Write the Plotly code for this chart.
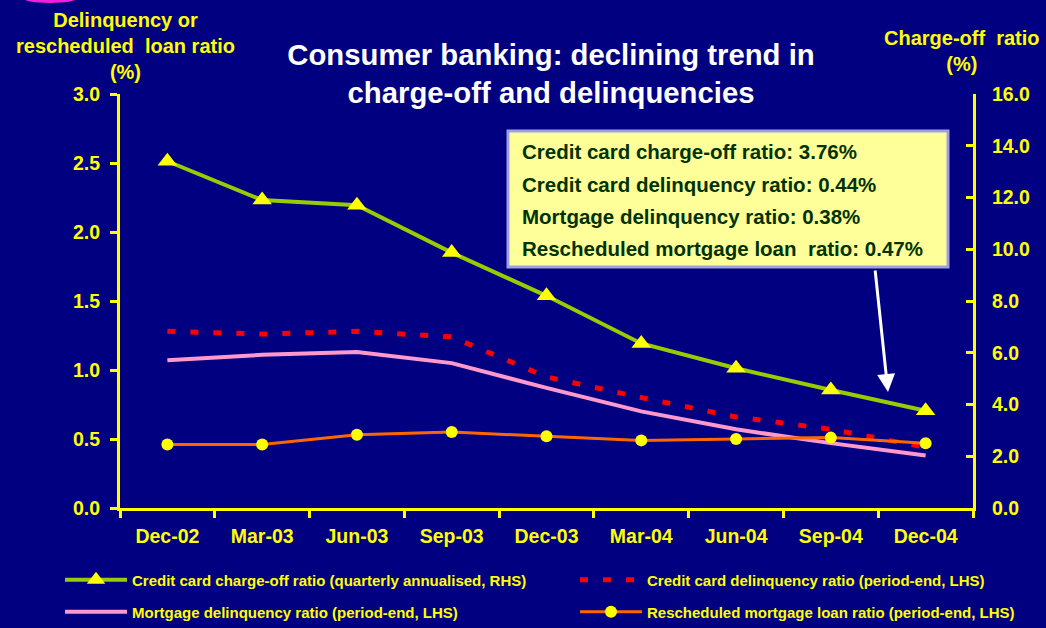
import plotly.graph_objects as go

quarters = ["Dec-02", "Mar-03", "Jun-03", "Sep-03", "Dec-03", "Mar-04", "Jun-04", "Sep-04", "Dec-04"]
chargeoff = [13.4, 11.9, 11.7, 9.87, 8.2, 6.36, 5.4, 4.56, 3.76]
cc_delinq = [1.28, 1.26, 1.28, 1.24, 0.95, 0.80, 0.66, 0.57, 0.44]
mort_delinq = [1.07, 1.11, 1.13, 1.05, 0.87, 0.70, 0.57, 0.47, 0.38]
resched = [0.46, 0.46, 0.53, 0.55, 0.52, 0.49, 0.50, 0.51, 0.47]

box_lines = [
    "Credit card charge-off ratio: 3.76%",
    "Credit card delinquency ratio: 0.44%",
    "Mortgage delinquency ratio: 0.38%",
    "Rescheduled mortgage loan  ratio: 0.47%",
]

W, H = 1046, 628
L, R, T, B = 120, 73, 94, 120
PW, PH = W - L - R, H - T - B

def px(x):
    return (x - L) / PW

def py(y):
    return (H - B - y) / PH

FONT = "Arial, Liberation Sans, sans-serif"
NARROW = "Liberation Sans Narrow, Arial Narrow, Liberation Sans, sans-serif"
YEL = "#FFFF00"

fig = go.Figure()
fig.add_trace(go.Scatter(
    x=quarters, y=chargeoff, yaxis="y2", mode="lines+markers",
    name="Credit card charge-off ratio (quarterly annualised, RHS)",
    line=dict(color="#99CC00", width=4),
    marker=dict(symbol="triangle-up", size=17, color=YEL),
    legend="legend",
))
fig.add_trace(go.Scatter(
    x=quarters, y=cc_delinq, mode="lines",
    name="Credit card delinquency ratio (period-end, LHS)",
    line=dict(color="#FF0000", width=5, dash="8px,15px"),
    legend="legend2",
))
fig.add_trace(go.Scatter(
    x=quarters, y=mort_delinq, mode="lines",
    name="Mortgage delinquency ratio (period-end, LHS)",
    line=dict(color="#FF99CC", width=4),
    legend="legend3",
))
fig.add_trace(go.Scatter(
    x=quarters, y=resched, mode="lines+markers",
    name="Rescheduled mortgage loan ratio (period-end, LHS)",
    line=dict(color="#FF6600", width=3),
    marker=dict(symbol="circle", size=12, color=YEL),
    legend="legend4",
))

legend_common = dict(
    orientation="h", xref="container", yref="container",
    xanchor="left", yanchor="middle", itemwidth=62,
    font=dict(family=NARROW, size=15, color=YEL, weight="bold"),
    bgcolor="rgba(0,0,0,0)", itemclick=False, itemdoubleclick=False,
)

tickfont = dict(size=19.5, color=YEL, family=FONT, weight="bold")

fig.update_layout(
    width=W, height=H,
    margin=dict(l=L, r=R, t=T, b=B, autoexpand=False),
    paper_bgcolor="#000080", plot_bgcolor="#000080",
    font=dict(family=FONT, color=YEL, size=17, weight="bold"),
    showlegend=True,
    legend=dict(legend_common, x=60 / W, y=1 - 580 / H),
    legend2=dict(legend_common, x=575 / W, y=1 - 580 / H),
    legend3=dict(legend_common, x=60 / W, y=1 - 612 / H),
    legend4=dict(legend_common, x=575 / W, y=1 - 612 / H),
    title=dict(
        text="Consumer banking: declining trend in<br>charge-off and delinquencies",
        x=551 / W, xanchor="center", xref="container",
        y=1 - 65 / H, yanchor="top", yref="container",
        font=dict(family=FONT, size=29.3, color="white", weight="bold"),
    ),
    xaxis=dict(
        type="category", range=[-0.5, 8.5], tickson="boundaries",
        ticks="outside", ticklen=7, tickwidth=3, tickcolor=YEL,
        showline=True, linecolor=YEL, linewidth=3, showgrid=False,
        zeroline=False, tickfont=tickfont, ticklabelstandoff=9,
    ),
    yaxis=dict(
        range=[0, 3], dtick=0.5, tickformat=".1f",
        ticks="outside", ticklen=7, tickwidth=3, tickcolor=YEL,
        showline=True, linecolor=YEL, linewidth=3, showgrid=False, zeroline=False,
        tickfont=tickfont, ticklabelstandoff=6,
    ),
    yaxis2=dict(
        range=[0, 16], dtick=2, tickformat=".1f", overlaying="y", side="right",
        ticks="inside", ticklen=7, tickwidth=3, tickcolor=YEL,
        showline=True, linecolor=YEL, linewidth=3, showgrid=False, zeroline=False,
        tickfont=tickfont, ticklabelstandoff=12,
    ),
)

# Decorative logo fragment at the top-left edge
fig.add_shape(
    type="circle", xref="paper", yref="paper",
    x0=px(22), x1=px(78), y0=py(3), y1=py(-8),
    fillcolor="#EE22DD", line=dict(width=0), layer="above",
)

# Axis titles
fig.add_annotation(
    xref="paper", yref="paper", x=px(125), y=py(46), xanchor="center", yanchor="middle",
    text="Delinquency or<br>rescheduled  loan ratio<br>(%)", showarrow=False,
    font=dict(family=FONT, size=20, color=YEL, weight="bold"),
)
fig.add_annotation(
    xref="paper", yref="paper", x=px(962), y=py(51), xanchor="center", yanchor="middle",
    text="Charge-off  ratio<br>(%)", showarrow=False,
    font=dict(family=FONT, size=20, color=YEL, weight="bold"),
)

# Info box
fig.add_shape(
    type="rect", xref="paper", yref="paper",
    x0=px(508), x1=px(948), y0=py(267), y1=py(131),
    fillcolor="#FFFF99", line=dict(color="#A0A0E0", width=3), layer="above",
)
for i, t in enumerate(box_lines):
    fig.add_annotation(
        xref="paper", yref="paper", x=px(520), y=py(152 + i * 32.3),
        xanchor="left", yanchor="middle", text=t, showarrow=False,
        font=dict(family=FONT, size=20.5, color="#003300", weight="bold"),
    )

# Arrow
fig.add_annotation(
    xref="paper", yref="paper", x=px(888), y=py(392), ax=875 - 888, ay=269 - 392,
    axref="pixel", ayref="pixel", text="", showarrow=True,
    arrowhead=2, arrowsize=1.2, arrowwidth=3, arrowcolor="white",
)

fig.write_html(
    "out.html",
    config={"displayModeBar": False},
    post_script="document.body.style.margin='0';document.body.style.padding='0';",
)
